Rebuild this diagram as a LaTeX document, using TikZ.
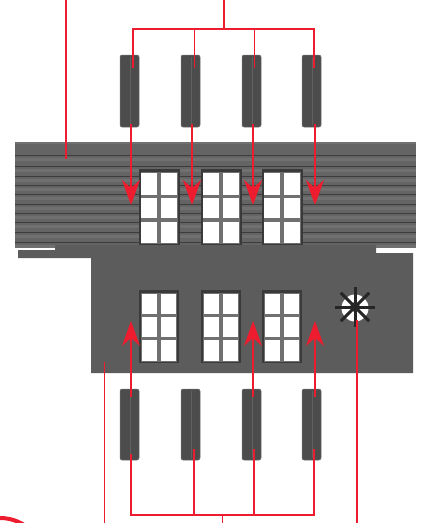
\documentclass[tikz,border=0pt]{standalone}
\usepackage{tikz}
\usetikzlibrary{arrows.meta}
\definecolor{leadred}{RGB}{237,28,46}
\definecolor{wallgray}{RGB}{100,100,100}
\definecolor{plankdark}{RGB}{60,60,60}
\definecolor{plankgray}{RGB}{112,112,112}
\definecolor{basegray}{RGB}{92,92,92}
\definecolor{shuttergray}{RGB}{76,76,76}
\definecolor{framegray}{RGB}{58,58,58}
\definecolor{mullion}{RGB}{112,112,112}
\begin{document}
\begin{tikzpicture}[
    x=1pt, y=-1pt,
    leader/.style={draw=leadred, line width=1.3pt},
    redtip/.style={leader, -{Stealth[length=25pt, width=18pt, inset=8pt]}},
    shutter/.style={fill=shuttergray, draw=plankgray, line width=0.5pt, rounded corners=2pt},
    pane/.style={fill=white},
]
\useasboundingbox (0, 0) rectangle (427, 523);
\fill[white] (0, 0) rectangle (427, 523);
% === Upper wall ===
\fill[wallgray] (15, 142) rectangle (416, 245);
\fill[plankgray] (15, 142) rectangle (416, 144);
\foreach \y in {155, 166, 176, 185, 194, 204, 213, 222, 232, 242} {
    \fill[plankgray] (15, \y+3) rectangle (416, \y+6);
    \draw[plankdark, line width=0.9pt] (15, \y) -- (416, \y);
}
% === Lower wall ===
\fill[basegray] (55, 245) -- (376, 245) -- (376, 253) -- (413, 253) -- (413, 373) -- (91, 373)
    -- (91, 258) -- (18, 258) -- (18, 250) -- (55, 250) -- cycle;
% === Windows ===
\foreach \x in {139, 201, 262} {
    % upper row
    \fill[framegray] (\x, 169) rectangle (\x+41, 245);
    \fill[mullion] (\x+2, 172) rectangle (\x+39, 244);
    \foreach \py/\qy in {173/195, 198/218, 222/243} {
        \fill[pane] (\x+2, \py) rectangle (\x+18, \qy);
        \fill[pane] (\x+22, \py) rectangle (\x+38, \qy);
    }
    % lower row
    \fill[framegray] (\x, 290) rectangle (\x+40, 363);
    \fill[mullion] (\x+2, 293) rectangle (\x+38, 362);
    \foreach \py/\qy in {294/314, 317/337, 340/361} {
        \fill[pane] (\x+3, \py) rectangle (\x+18, \qy);
        \fill[pane] (\x+22, \py) rectangle (\x+37, \qy);
    }
}
% === Vent ===
\fill[white] (355, 308) circle (13.5);
\foreach \a in {0, 45, ..., 315} {
    \draw[black!85, line width=3pt] (355, 307) -- ++(\a:20);
}
\fill[black!85] (355, 307) circle (5);
% === Shutters ===
\foreach \x in {120, 181, 242, 302} {
    \fill[shutter] (\x, 55) rectangle (\x+19, 127);
    \fill[shutter] (\x, 389) rectangle (\x+19, 460);
    \draw[black!62, line width=0.6pt] (\x+10, 57) -- (\x+10, 125);
    \draw[black!62, line width=0.6pt] (\x+10, 391) -- (\x+10, 458);
}
% === Top leaders ===
\draw[leader] (66, 0) -- (66, 159);
\draw[leader] (224, 0) -- (224, 29);
\draw[leader] (133, 68) -- (133, 29) -- (314, 29) -- (314, 68);
\draw[leader] (194.5, 29) -- (194.5, 68);
\draw[leader] (254.5, 29) -- (254.5, 68);
\foreach \x in {131, 192, 253, 315} {
    \draw[redtip] (\x, 124) -- (\x, 205);
}
% === Bottom leaders ===
\draw[leader] (131, 454) -- (131, 515) -- (314, 515) -- (314, 449);
\draw[leader] (194, 515) -- (194, 449);
\draw[leader] (254, 515) -- (254, 449);
\draw[leader] (222.5, 515) -- (222.5, 523);
\draw[leader] (104.5, 523) -- (104.5, 362);
\draw[leader] (357, 523) -- (357, 320);
\foreach \x in {131, 253, 315} {
    \draw[redtip] (\x, 397) -- (\x, 321);
}
% === Corner arc ===
\begin{scope}
\clip (0, 0) rectangle (427, 523);
\draw[leadred, line width=4pt] (0, 563) circle (45);
\end{scope}
\end{tikzpicture}
\end{document}
